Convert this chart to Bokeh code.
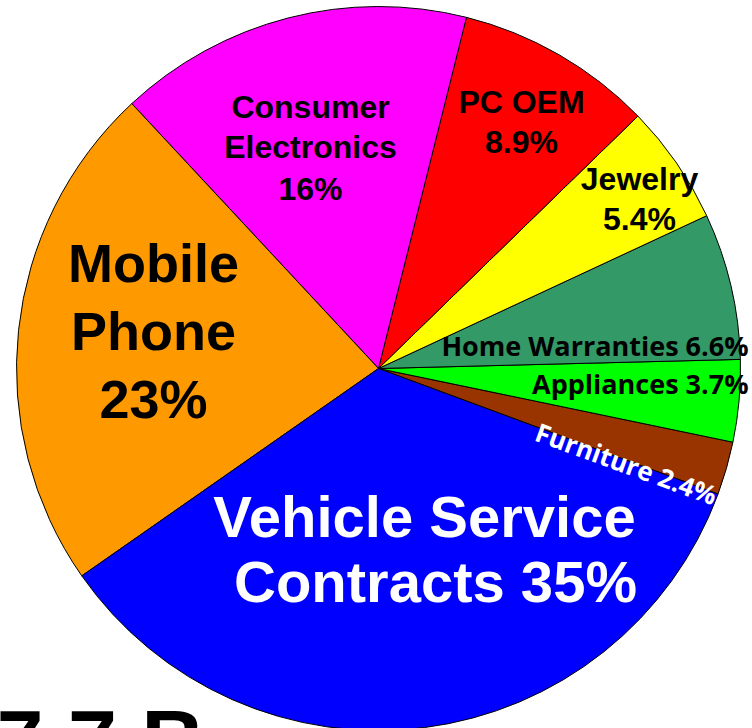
import numpy as np
from bokeh.plotting import figure
from bokeh.models import Range1d, ColumnDataSource
from bokeh.core.properties import value
from bokeh.embed import file_html
from bokeh.resources import INLINE

# ---- data ----
categories = ["Furniture", "Appliances", "Home Warranties", "Jewelry", "PC OEM",
              "Consumer Electronics", "Mobile Phone", "Vehicle Service Contracts"]
shares = [2.4, 3.7, 6.6, 5.4, 8.9, 16, 23, 35]
colors = ["#993300", "#00FF00", "#339966", "#FFFF00", "#FF0000",
          "#FF00FF", "#FF9900", "#0000FF"]
total_label = "7.7 B"

# ---- layout ----
W, H = 752, 728
CX, CY, R = 378, 368, 362
START_DEG = -20.3

p = figure(width=W, height=H, x_range=Range1d(0, W), y_range=Range1d(-H, 0),
           output_backend="svg", toolbar_location=None, min_border=0)
p.axis.visible = False
p.grid.visible = False
p.outline_line_color = None
p.background_fill_color = "white"
p.border_fill_color = "white"

vals = np.array(shares, dtype=float)
frac = vals / vals.sum()
start0 = np.radians(START_DEG)
ends = start0 + np.cumsum(frac) * 2 * np.pi
starts = np.concatenate([[start0], ends[:-1]])
src = ColumnDataSource(dict(cat=categories, share=shares, color=colors,
                            start=starts, end=ends))
p.wedge(x=CX, y=-CY, radius=R, start_angle="start", end_angle="end",
        fill_color="color", line_color="black", line_width=1, source=src)


def lbl(x, base, txt, size, color="black", font="Liberation Sans", align="center",
        angle=0.0, mid=None):
    # place by the vertical middle of capitals
    ymid = mid if mid is not None else base - 0.36 * size
    p.text(x=[x], y=[-ymid], text=[txt], text_font=value(font),
           text_font_size=f"{size}px", text_font_style="bold", text_color=color,
           text_align=align, text_baseline="middle", angle=angle)


def pct(i):
    return f"{shares[i]:g}%"

# Mobile Phone
lbl(153, 282, "Mobile", 54)
lbl(153, 350, "Phone", 54)
lbl(153, 418, pct(6), 54)
# Consumer Electronics
lbl(310, 118, "Consumer", 32)
lbl(310, 158, "Electronics", 32)
lbl(310, 200, pct(5), 32)
# PC OEM
lbl(521, 113, "PC OEM", 32)
lbl(521, 153, pct(4), 32)
# Jewelry
lbl(639, 190, "Jewelry", 32)
lbl(639, 230, pct(3), 32)
# Vehicle Service Contracts
lbl(424, 537, "Vehicle Service", 58, color="white")
lbl(435, 602, "Contracts " + pct(7), 58, color="white")
# small slices
lbl(748, 355, "Home Warranties " + pct(2), 27, font="Open Sans", align="right")
lbl(748, 393, "Appliances " + pct(1), 27, font="Open Sans", align="right")
lbl(626, 463, "Furniture " + pct(0), 26, color="white", font="Open Sans",
    angle=np.radians(-20), mid=463)

# total, cut off at bottom
lbl(-6, 772, total_label, 88, align="left")

open("out.html", "w").write(file_html(p, INLINE))
